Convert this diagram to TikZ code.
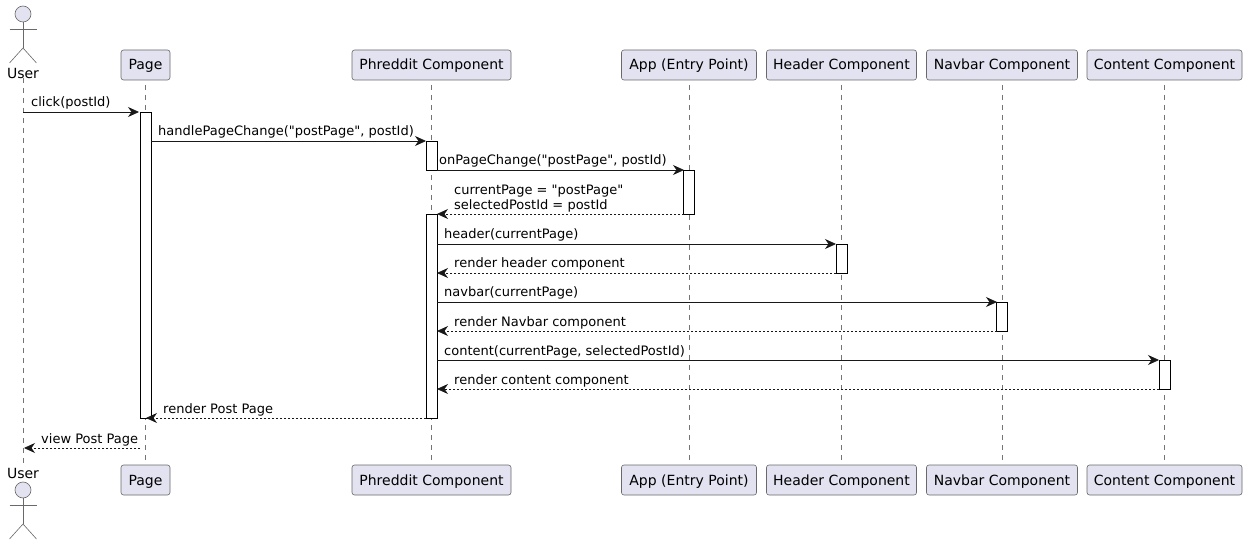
\documentclass[tikz,border=0pt]{standalone}
\usepackage{fontspec}
\setmainfont{DejaVu Sans}[Ligatures=TeXOff]
\usetikzlibrary{arrows.meta,positioning}
\definecolor{partfill}{HTML}{E2E2F0}
\definecolor{partline}{HTML}{181818}
\tikzset{
  partbox/.style={draw=partline!65, line width=0.6pt, fill=partfill, rounded corners=2.5pt, minimum height=30pt, inner xsep=0pt, text height=12pt, text depth=2pt, font=\fontsize{14}{16}\selectfont},
  actbar/.style={draw=black, line width=0.8pt, fill=white, minimum width=11pt, inner sep=0pt},
  lifeline/.style={draw=partline!60, line width=0.6pt, dash pattern=on 5pt off 5pt},
  msgcall/.style={-{Stealth[length=11pt,width=10pt,inset=3.5pt]}, draw=partline, line width=0.8pt},
  msgback/.style={msgcall, dash pattern=on 2pt off 2pt},
  msgtext/.style={anchor=base west, inner sep=0pt, align=left, font=\fontsize{13}{15}\selectfont},
  stickman/.style={draw=partline!65, line width=0.6pt},
}
\begin{document}
\begin{tikzpicture}[x=1pt, y=-1pt]
    \useasboundingbox (0,0) rectangle (1247,545);

    \def\XUser{23}
    \def\XPage{145.5}
    \def\XPhr{431.5}
    \def\XApp{689}
    \def\XHead{841.5}
    \def\XNav{1002}
    \def\XCont{1164.5}

    % participants, top and bottom row
    \foreach \nm/\xx/\bw/\txt in {Page/\XPage/49/Page, Phr/\XPhr/159/Phreddit Component, App/\XApp/135/App (Entry Point), Head/\XHead/150/Header Component, Nav/\XNav/151/Navbar Component, Cont/\XCont/155/Content Component} {
      \draw[lifeline] (\xx,65) -- (\xx,480);
      \node[partbox, minimum width=\bw pt] (top\nm) at (\xx,65) {\txt};
      \node[partbox, minimum width=\bw pt] (bot\nm) at (\xx,480) {\txt};
    }

    % actor, top and bottom
    \node[inner sep=0pt, font=\fontsize{14}{16}\selectfont] (topUser) at (\XUser,73) {User};
    \node[inner sep=0pt, font=\fontsize{14}{16}\selectfont] (botUser) at (\XUser,473) {User};
    \draw[lifeline] (topUser.south) -- (botUser.north);
    \foreach \yy in {14,490} {
      \draw[stickman, fill=partfill] (\XUser,\yy) circle (8);
      \draw[stickman] (\XUser,\yy+8) -- (\XUser,\yy+34);
      \draw[stickman] (\XUser-13.5,\yy+15) -- (\XUser+13.5,\yy+15);
      \draw[stickman] (\XUser-13.5,\yy+49) -- (\XUser,\yy+34) -- (\XUser+13.5,\yy+49);
    }

    % activation bars
    \foreach \nm/\xx/\ya/\yb in {barPage/\XPage/112/418, barPhrA/\XPhr/141/170, barPhrB/\XPhr/214/418, barApp/\XApp/170/214, barHead/\XHead/244/273, barNav/\XNav/302/331, barCont/\XCont/360/389} {
      \pgfmathsetmacro{\hh}{\yb-\ya}
      \pgfmathsetmacro{\mm}{(\ya+\yb)/2}
      \node[actbar, minimum height=\hh pt] (\nm) at (\xx,\mm) {};
    }

    % messages: number/style/from x/to x/y/label x/baseline y/text
    \foreach \i/\sty/\xa/\xb/\yy/\lx/\ly/\txt in {
      1/msgcall/23/139/112/31/107/{click(postId)},
      2/msgcall/151/426/141/158/136/{handlePageChange("postPage", postId)},
      3/msgcall/437/684/170/439/165/{onPageChange("postPage", postId)},
      4/msgback/684/437/214/454/209.5/{currentPage = "postPage"\\selectedPostId = postId},
      5/msgcall/437/836/244/444/239/{header(currentPage)},
      6/msgback/836/437/273/454/268/{render header component},
      7/msgcall/437/997/302/444/297/{navbar(currentPage)},
      8/msgback/997/437/331/454/326/{render Navbar component},
      9/msgcall/437/1159/360/444/355/{content(currentPage, selectedPostId)},
      10/msgback/1159/437/389/454/384/{render content component},
      11/msgback/426/146/418/163/413/{render Post Page},
      12/msgback/140/24/448/41/443/{view Post Page}} {
      \coordinate (m\i from) at (\xa,\yy);
      \coordinate (m\i to) at (\xb,\yy);
      \draw[\sty] (m\i from) -- (m\i to);
      \node[msgtext] (lab\i) at (\lx,\ly) {\txt};
    }
  \end{tikzpicture}
\end{document}
